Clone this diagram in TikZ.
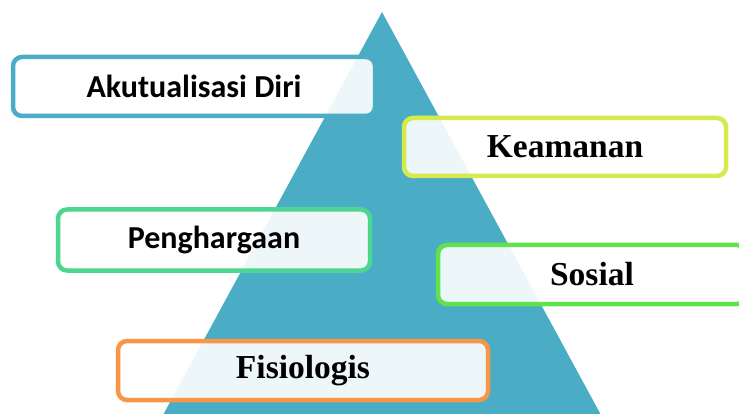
\documentclass[tikz,border=0pt]{standalone}
\usepackage{fontspec}
\setsansfont{Carlito}
\newfontfamily\levelserif{Liberation Serif}
\usetikzlibrary{positioning}
\definecolor{pyrteal}{HTML}{4BACC6}
\definecolor{lvlyellow}{HTML}{D6EB4B}
\definecolor{lvlmint}{HTML}{4DD68F}
\definecolor{lvlgreen}{HTML}{5FE24C}
\definecolor{lvlorange}{HTML}{F79646}
\tikzset{level box/.style={draw, line width=4.5pt, rounded corners=9pt, fill=white,
    fill opacity=0.9, text opacity=1, align=center},
  sans label/.style={font=\sffamily\bfseries\fontsize{32}{38}\selectfont},
  serif label/.style={font=\levelserif\bfseries\fontsize{33.5}{40}\selectfont}}

\begin{document}
\begin{tikzpicture}[x=1pt, y=-1pt]
    \clip (0,0) rectangle (739,414);
    \fill[pyrteal] (382,12) -- (620,450) -- (144,450) -- cycle;
    \node[level box, sans label, draw=pyrteal, minimum width=362pt, minimum height=59pt]
        (akt) at (194,86.5) {Akutualisasi Diri};
    \node[level box, serif label, draw=lvlyellow, minimum width=322pt, minimum height=58pt]
        (kea) at (565,147) {Keamanan};
    \node[level box, sans label, draw=lvlmint, minimum width=312pt, minimum height=61pt]
        (png) at (214,240) {Penghargaan};
    \node[level box, serif label, draw=lvlgreen, minimum width=308pt, minimum height=59pt]
        (sos) at (592,274.5) {Sosial};
    \node[level box, serif label, draw=lvlorange, minimum width=370pt, minimum height=59pt]
        (fis) at (303,370.5) {Fisiologis};
\end{tikzpicture}
\end{document}
